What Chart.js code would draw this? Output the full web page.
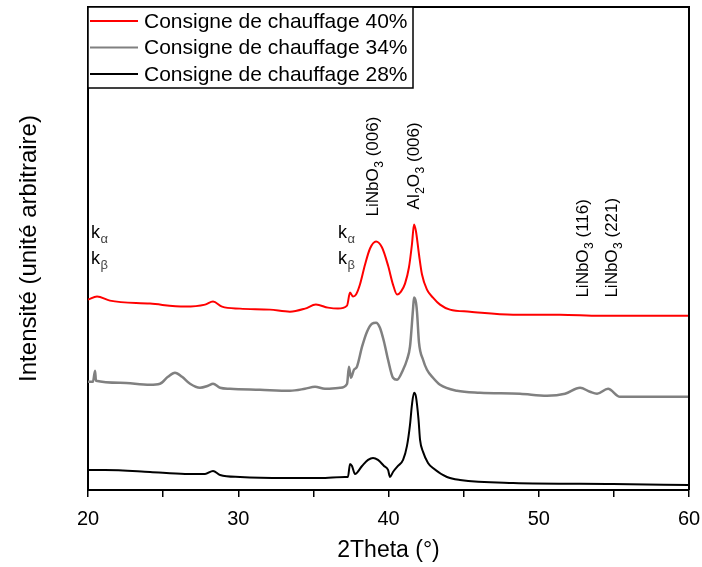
<!DOCTYPE html>
<html>
<head>
<meta charset="utf-8">
<script src="https://cdn.jsdelivr.net/npm/chart.js@4.4.1/dist/chart.umd.min.js"></script>
<style>
  html, body { margin: 0; padding: 0; background: #fff; }
  canvas { display: block; }
</style>
</head>
<body>
<canvas id="c" width="702" height="567"></canvas>
<script>
// ---- Data ----
const seriesLabels = ['Consigne de chauffage 40%', 'Consigne de chauffage 34%', 'Consigne de chauffage 28%'];

const twoTheta40 = [20.0, 20.6, 21.46, 24.13, 26.46, 27.79, 28.32, 28.92, 30.12, 32.11, 33.44, 34.44, 35.17, 35.97, 36.64, 37.24, 37.44, 37.64, 37.84, 38.10, 38.44, 38.77, 39.17, 39.57, 39.97, 40.30, 40.57, 40.83, 41.10, 41.36, 41.56, 41.70, 41.83, 42.03, 42.23, 42.56, 42.96, 43.43, 44.09, 45.42, 48.29, 51.41, 54.08, 57.40, 60.0];
const intensity40 = [190, 193, 189, 186, 183, 185, 188, 183, 181, 180, 178, 181, 185, 182, 181, 184, 197, 193, 195, 205, 225, 241, 248, 242, 224, 205, 195, 198, 206, 222, 245, 265, 258, 235, 215, 200, 192, 185, 180, 178, 175, 175, 174, 174, 174];

const twoTheta34 = [20.0, 20.33, 20.47, 20.53, 22.13, 24.13, 24.79, 25.32, 25.79, 26.26, 26.79, 27.45, 27.99, 28.32, 28.79, 29.45, 31.45, 33.44, 34.44, 35.11, 35.77, 36.77, 37.24, 37.37, 37.50, 37.70, 37.90, 38.24, 38.57, 38.90, 39.17, 39.43, 39.70, 39.97, 40.30, 40.57, 40.97, 41.23, 41.43, 41.63, 41.70, 41.83, 41.90, 42.03, 42.30, 42.56, 42.96, 43.43, 44.56, 46.09, 48.75, 50.55, 51.75, 52.75, 53.41, 53.88, 54.61, 55.41, 57.40, 60.0];
const intensity34 = [108, 108, 119, 109, 107, 105, 106, 113, 117, 113, 106, 102, 104, 106, 102, 101, 100, 99, 101, 103, 101, 102, 106, 123, 112, 120, 123, 143, 158, 166, 167, 162, 148, 130, 112, 110, 120, 130, 143, 180, 192, 187, 177, 147, 130, 120, 112, 105, 99, 97, 96, 94, 96, 102, 98, 96, 101, 93, 93, 93];

const twoTheta28 = [20.0, 21.13, 24.13, 26.46, 27.79, 28.32, 28.79, 30.12, 33.11, 35.44, 37.10, 37.30, 37.44, 37.57, 37.77, 38.24, 38.64, 38.97, 39.30, 39.70, 39.97, 40.10, 40.30, 40.63, 40.97, 41.23, 41.43, 41.56, 41.70, 41.83, 42.0, 42.10, 42.30, 42.63, 42.96, 43.89, 44.76, 48.29, 54.94, 60.0];
const intensity28 = [20, 20, 18, 16, 16, 19, 15, 13, 12, 12, 13, 13, 26, 24, 16, 24, 30, 32, 30, 24, 20, 13, 18, 24, 30, 44, 65, 85, 97, 93, 70, 50, 38, 27, 22, 13, 10, 7, 6, 5];

const xTickValues = [20, 30, 40, 50, 60];

function pts(xs, ys) { return xs.map((x, i) => ({ x: x, y: ys[i] })); }

const colors = ['#ff0000', '#808080', '#000000'];
const FONT = '"Liberation Sans", Arial, sans-serif';

// ---- Plugin: frame, legend box, peak annotations ----
const decor = {
  id: 'decor',
  afterDatasetsDraw(chart) {
    const ctx = chart.ctx;
    const a = chart.chartArea;
    const xs = chart.scales.x, ys = chart.scales.y;
    ctx.save();
    // top & right frame
    ctx.strokeStyle = '#000';
    ctx.lineWidth = 2;
    ctx.beginPath();
    ctx.moveTo(a.left, a.top);
    ctx.lineTo(a.right, a.top);
    ctx.lineTo(a.right, a.bottom);
    ctx.stroke();

    // legend
    const lx = a.left, ly = a.top;
    const lw = 325, lh = 81;
    ctx.fillStyle = '#fff';
    ctx.fillRect(lx, ly, lw, lh);
    ctx.lineWidth = 1.5;
    ctx.strokeStyle = '#000';
    ctx.strokeRect(lx, ly, lw, lh);
    ctx.font = '21px ' + FONT;
    ctx.textBaseline = 'middle';
    ctx.textAlign = 'left';
    chart.data.datasets.forEach((ds, i) => {
      const yy = ly + 14 + i * 26.5;
      ctx.strokeStyle = ds.borderColor;
      ctx.lineWidth = 2;
      ctx.beginPath();
      ctx.moveTo(lx + 2, yy);
      ctx.lineTo(lx + 50, yy);
      ctx.stroke();
      ctx.fillStyle = '#000';
      ctx.fillText(ds.label, lx + 56, yy + 1);
    });

    // rich text helper
    function rich(parts, px, py, rot, size) {
      ctx.save();
      ctx.translate(px, py);
      if (rot) ctx.rotate(rot);
      ctx.textBaseline = 'alphabetic';
      ctx.textAlign = 'left';
      let cx = 0;
      parts.forEach(p => {
        if (p.sub) {
          ctx.font = Math.round(size * 0.7) + 'px ' + FONT;
          ctx.fillStyle = p.color || '#000';
          ctx.fillText(p.t, cx + 0.5, 5);
          cx += ctx.measureText(p.t).width + 0.5;
        } else {
          ctx.font = size + 'px ' + FONT;
          ctx.fillStyle = '#000';
          ctx.fillText(p.t, cx, 0);
          cx += ctx.measureText(p.t).width;
        }
      });
      ctx.restore();
    }
    const R = -Math.PI / 2;
    rich([{t:'LiNbO'},{t:'3',sub:true},{t:' (006)'}], xs.getPixelForValue(39.30), ys.getPixelForValue(273), R, 17);
    rich([{t:'Al'},{t:'2',sub:true},{t:'O'},{t:'3',sub:true},{t:' (006)'}], xs.getPixelForValue(42.03), ys.getPixelForValue(280), R, 17);
    rich([{t:'LiNbO'},{t:'3',sub:true},{t:' (116)'}], xs.getPixelForValue(53.28), ys.getPixelForValue(192), R, 17);
    rich([{t:'LiNbO'},{t:'3',sub:true},{t:' (221)'}], xs.getPixelForValue(55.21), ys.getPixelForValue(192), R, 17);
    [20.2, 36.64].forEach(xv => {
      rich([{t:'k'},{t:'\u03B1',sub:true,color:'#444'}], xs.getPixelForValue(xv), ys.getPixelForValue(251), 0, 18);
      rich([{t:'k'},{t:'\u03B2',sub:true,color:'#444'}], xs.getPixelForValue(xv), ys.getPixelForValue(226), 0, 18);
    });
    ctx.restore();
  }
};

new Chart(document.getElementById('c'), {
  type: 'line',
  data: {
    datasets: [
      { label: seriesLabels[0], data: pts(twoTheta40, intensity40), borderColor: colors[0], borderWidth: 2 },
      { label: seriesLabels[1], data: pts(twoTheta34, intensity34), borderColor: colors[1], borderWidth: 2.5 },
      { label: seriesLabels[2], data: pts(twoTheta28, intensity28), borderColor: colors[2], borderWidth: 2 }
    ]
  },
  options: {
    responsive: false,
    animation: false,
    layout: { padding: { left: 0, right: 13, top: 7, bottom: 0 } },
    elements: { point: { radius: 0 }, line: { cubicInterpolationMode: 'monotone', fill: false } },
    plugins: { legend: { display: false }, tooltip: { enabled: false } },
    scales: {
      x: {
        type: 'linear', min: 20, max: 60,
        afterBuildTicks: s => { s.ticks = [20,25,30,35,40,45,50,55,60].map(v => ({ value: v })); },
        ticks: {
          autoSkip: false, maxRotation: 0, color: '#000', padding: 10,
          font: { size: 20, family: FONT },
          callback: v => xTickValues.includes(v) ? String(v) : ''
        },
        grid: { drawOnChartArea: false, drawTicks: true, tickLength: 7, color: '#000', lineWidth: 1.5 },
        border: { color: '#000', width: 2 },
        title: { display: true, text: '2Theta (°)', color: '#000', font: { size: 23, family: FONT }, padding: { top: 0, bottom: 3 } },
        afterFit: s => { s.height = 77; s.paddingLeft = 0; s.paddingRight = 0; }
      },
      y: {
        min: 0, max: 482,
        ticks: { display: false },
        grid: { display: false, drawTicks: false },
        border: { color: '#000', width: 2 },
        title: { display: true, text: 'Intensité (unité arbitraire)', color: '#000', font: { size: 24, family: FONT }, padding: { top: 15, bottom: 0 } },
        afterFit: s => { s.width = 88; s.paddingTop = 0; s.paddingBottom = 0; }
      }
    }
  },
  plugins: [decor]
});
</script>
</body>
</html>
